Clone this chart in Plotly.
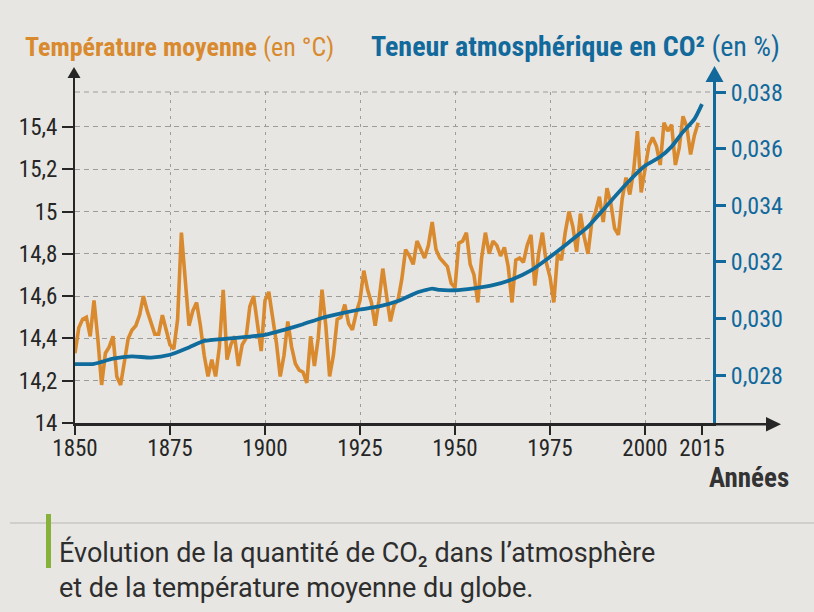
import plotly.graph_objects as go

# ---------------- data ----------------
years_temp = list(range(1850, 2015))
temperature = [
    14.33, 14.45, 14.49, 14.50, 14.41, 14.58, 14.40, 14.18, 14.33, 14.36,  # 1850-1859
    14.41, 14.22, 14.18, 14.30, 14.40, 14.44, 14.46, 14.51, 14.60, 14.53,  # 1860-1869
    14.48, 14.42, 14.42, 14.51, 14.44, 14.37, 14.35, 14.49, 14.90, 14.66,  # 1870-1879
    14.46, 14.53, 14.57, 14.46, 14.32, 14.22, 14.30, 14.22, 14.36, 14.63,  # 1880-1889
    14.30, 14.37, 14.41, 14.27, 14.37, 14.40, 14.55, 14.60, 14.47, 14.34,  # 1890-1899
    14.58, 14.62, 14.50, 14.38, 14.22, 14.32, 14.48, 14.36, 14.28, 14.25,  # 1900-1909
    14.24, 14.19, 14.41, 14.27, 14.40, 14.63, 14.46, 14.22, 14.32, 14.49,  # 1910-1919
    14.50, 14.56, 14.47, 14.44, 14.52, 14.58, 14.72, 14.63, 14.57, 14.46,  # 1920-1929
    14.58, 14.73, 14.60, 14.48, 14.56, 14.58, 14.68, 14.82, 14.79, 14.75,  # 1930-1939
    14.86, 14.82, 14.78, 14.84, 14.95, 14.82, 14.78, 14.76, 14.74, 14.66,  # 1940-1949
    14.64, 14.85, 14.86, 14.90, 14.75, 14.70, 14.57, 14.78, 14.90, 14.80,  # 1950-1959
    14.86, 14.84, 14.79, 14.83, 14.74, 14.57, 14.77, 14.78, 14.76, 14.84,  # 1960-1969
    14.89, 14.65, 14.80, 14.90, 14.76, 14.69, 14.57, 14.80, 14.77, 14.90,  # 1970-1979
    15.00, 14.93, 14.81, 14.99, 14.88, 14.80, 14.95, 15.00, 15.07, 14.95,  # 1980-1989
    15.11, 15.04, 14.92, 14.89, 15.06, 15.16, 15.08, 15.19, 15.38, 15.09,  # 1990-1999
    15.19, 15.31, 15.35, 15.31, 15.22, 15.42, 15.38, 15.41, 15.22, 15.30,  # 2000-2009
    15.45, 15.40, 15.27, 15.36, 15.42,                                      # 2010-2014
]

years_co2 = [1850, 1855, 1860, 1865, 1870, 1875, 1880, 1884, 1890, 1895,
             1900, 1905, 1910, 1915, 1920, 1925, 1930, 1935, 1940, 1942,
             1944, 1946, 1950, 1955, 1960, 1965, 1970, 1975, 1980, 1985,
             1990, 1995, 2000, 2004, 2007, 2010, 2013, 2015]
co2 = [0.02839, 0.02840, 0.02858, 0.02866, 0.02862, 0.02872, 0.02898, 0.02921, 0.02929, 0.02935,
       0.02942, 0.02960, 0.02980, 0.03002, 0.03018, 0.03032, 0.03043, 0.03062, 0.03092, 0.03100,
       0.03106, 0.03101, 0.03100, 0.03107, 0.03118, 0.03138, 0.03170, 0.03218, 0.03270, 0.03325,
       0.03400, 0.03475, 0.03540, 0.03572, 0.03608, 0.03660, 0.03705, 0.03758]

x_tickvals = [1850, 1875, 1900, 1925, 1950, 1975, 2000, 2015]
x_ticktext = ["1850", "1875", "1900", "1925", "1950", "1975", "2000", "2015"]
x_gridvals = [1875, 1900, 1925, 1950, 1975, 2000]
temp_tickvals = [14, 14.2, 14.4, 14.6, 14.8, 15, 15.2, 15.4]
temp_ticktext = ["14", "14,2", "14,4", "14,6", "14,8", "15", "15,2", "15,4"]
co2_tickvals = [0.028, 0.030, 0.032, 0.034, 0.036, 0.038]
co2_ticktext = ["0,028", "0,030", "0,032", "0,034", "0,036", "0,038"]

# ---------------- styling / layout geometry ----------------
W, H = 814, 612
L, R, T, B = 75, 713, 92, 423
PW, PH = R - L, B - T

ORANGE = "#d98a2e"
BLUE = "#12699b"
BLUE_LINE = "#0f6c9c"
DARK = "#262626"
BG = "#e7e6e3"
GRID = "#9c9c9a"
FONT = "Roboto Condensed, Liberation Sans Narrow, DejaVu Sans Condensed, sans-serif"
FONT_CAPTION = "Roboto, Open Sans, DejaVu Sans, sans-serif"


def xp(px):
    return (px - L) / PW


def yp(py):
    return (B - py) / PH


fig = go.Figure()
fig.add_trace(go.Scatter(x=years_temp, y=temperature, mode="lines",
                         line=dict(color=ORANGE, width=3.6), yaxis="y",
                         hoverinfo="skip", showlegend=False))
fig.add_trace(go.Scatter(x=years_co2, y=co2, mode="lines",
                         line=dict(color=BLUE_LINE, width=3.8, shape="spline", smoothing=0.6),
                         yaxis="y2", hoverinfo="skip", showlegend=False))

shapes = [
    # top dashed grid line (level 0,038)
    dict(type="line", xref="paper", yref="paper", x0=0, x1=1, y0=1, y1=1,
         line=dict(color=GRID, width=1, dash="5px,4px"), layer="below"),
    # left axis extension + arrow
    dict(type="line", xref="paper", yref="paper", x0=xp(74), x1=xp(74), y0=1, y1=yp(76),
         line=dict(color=DARK, width=2)),
    dict(type="path", xref="paper", yref="paper",
         path=f"M {xp(74)},{yp(67)} L {xp(67.5)},{yp(78)} L {xp(80.5)},{yp(78)} Z",
         fillcolor=DARK, line=dict(width=0)),
    # right axis extension + arrow
    dict(type="line", xref="paper", yref="paper", x0=xp(714.5), x1=xp(714.5), y0=1, y1=yp(80),
         line=dict(color=BLUE, width=3)),
    dict(type="path", xref="paper", yref="paper",
         path=f"M {xp(714.5)},{yp(66)} L {xp(705.5)},{yp(82)} L {xp(723.5)},{yp(82)} Z",
         fillcolor=BLUE, line=dict(width=0)),
    # x axis extension + arrow
    dict(type="line", xref="paper", yref="paper", x0=1, x1=xp(768), y0=yp(424.2), y1=yp(424.2),
         line=dict(color=DARK, width=2.5)),
    dict(type="path", xref="paper", yref="paper",
         path=f"M {xp(781)},{yp(424.2)} L {xp(766)},{yp(417)} L {xp(766)},{yp(431.4)} Z",
         fillcolor=DARK, line=dict(width=0)),
    # caption separator line and green bar
    dict(type="line", xref="paper", yref="paper", x0=xp(10), x1=xp(814), y0=yp(523), y1=yp(523),
         line=dict(color="#b9b8b5", width=1)),
    dict(type="rect", xref="paper", yref="paper", x0=xp(46), x1=xp(51), y0=yp(568), y1=yp(514),
         fillcolor="#86b23a", line=dict(width=0)),
]

annotations = [
    dict(xref="paper", yref="paper", x=xp(23), y=yp(47), xanchor="left", yanchor="middle",
         text="<b>Température moyenne</b> (en °C)", showarrow=False,
         font=dict(family=FONT, size=26, color=ORANGE)),
    dict(xref="paper", yref="paper", x=xp(369), y=yp(47), xanchor="left", yanchor="middle",
         text="<b>Teneur atmosphérique en CO²</b> (en %)", showarrow=False,
         font=dict(family=FONT, size=28, color=BLUE)),
    dict(xref="paper", yref="paper", x=xp(791), y=yp(478), xanchor="right", yanchor="middle",
         text="<b>Années</b>", showarrow=False,
         font=dict(family=FONT, size=27, color="#333333")),
    dict(xref="paper", yref="paper", x=xp(57), y=yp(570), xanchor="left", yanchor="middle",
         align="left",
         text="Évolution de la quantité de CO₂ dans l’atmosphère<br>"
              "et de la température moyenne du globe.",
         showarrow=False,
         font=dict(family=FONT_CAPTION, size=27, color="#2e2e2e")),
]

fig.update_layout(
    width=W, height=H,
    margin=dict(l=L, r=W - R, t=T, b=H - B, pad=0),
    paper_bgcolor=BG, plot_bgcolor=BG,
    font=dict(family=FONT, size=23, color=DARK),
    showlegend=False,
    shapes=shapes,
    annotations=annotations,
    xaxis=dict(
        range=[1850, 1850 + PW / 3.8], tickmode="array",
        tickvals=x_tickvals, ticktext=x_ticktext,
        showgrid=False, zeroline=False,
        showline=True, linecolor=DARK, linewidth=2.5,
        ticks="outside", ticklen=9, tickwidth=2, tickcolor=DARK,
        ticklabelstandoff=-6,
        tickfont=dict(family=FONT, size=23, color=DARK),
        minor=dict(tickmode="array", tickvals=x_gridvals, showgrid=True,
                   gridcolor=GRID, gridwidth=1, griddash="3px,5px", ticks=""),
    ),
    yaxis=dict(
        range=[14, 14 + PH / 211.5], tickmode="array",
        tickvals=temp_tickvals, ticktext=temp_ticktext,
        showgrid=True, gridcolor=GRID, gridwidth=1, griddash="5px,4px",
        zeroline=False, showline=True, linecolor=DARK, linewidth=2,
        ticks="outside", ticklen=11, tickwidth=2, tickcolor=DARK,
        tickfont=dict(family=FONT, size=23, color=DARK),
    ),
    yaxis2=dict(
        range=[0.028 - (B - 375) / 28350, 0.03801],
        overlaying="y", side="right", anchor="x",
        tickmode="array", tickvals=co2_tickvals, ticktext=co2_ticktext,
        showgrid=False, zeroline=False, showline=True, linecolor=BLUE, linewidth=3,
        ticks="outside", ticklen=10, tickwidth=2.5, tickcolor=BLUE,
        tickfont=dict(family=FONT, size=24, color=BLUE),
    ),
)

fig.write_html(
    "out.html",
    config={"displayModeBar": False},
    post_script="document.body.style.margin='0';document.body.style.background='" + BG + "';",
)
